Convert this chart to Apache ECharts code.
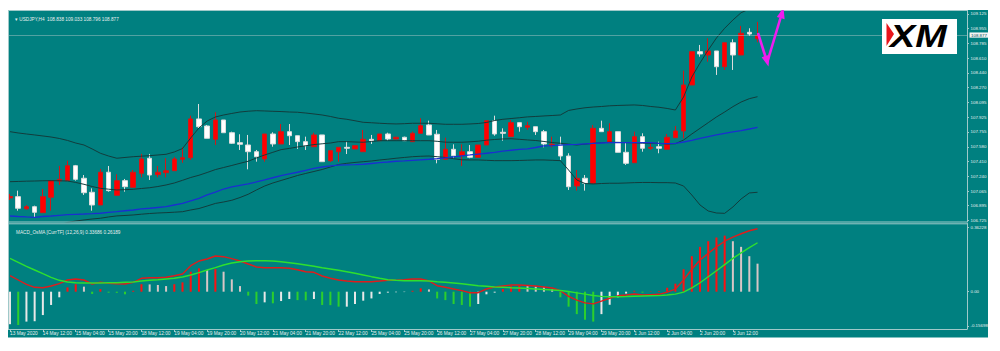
<!DOCTYPE html>
<html><head><meta charset="utf-8">
<script src="https://cdn.jsdelivr.net/npm/echarts@6/dist/echarts.min.js"></script>
<style>html,body{margin:0;padding:0;background:#fff}#c{width:1000px;height:351px}</style>
</head><body><div id="c"></div>
<script>
// ---------- DATA ----------
const times = [
'2020.05.13 20:00',
'2020.05.14 00:00','2020.05.14 04:00','2020.05.14 08:00','2020.05.14 12:00','2020.05.14 16:00','2020.05.14 20:00',
'2020.05.15 00:00','2020.05.15 04:00','2020.05.15 08:00','2020.05.15 12:00','2020.05.15 16:00','2020.05.15 20:00',
'2020.05.18 00:00','2020.05.18 04:00','2020.05.18 08:00','2020.05.18 12:00','2020.05.18 16:00','2020.05.18 20:00',
'2020.05.19 00:00','2020.05.19 04:00','2020.05.19 08:00','2020.05.19 12:00','2020.05.19 16:00','2020.05.19 20:00',
'2020.05.20 00:00','2020.05.20 04:00','2020.05.20 08:00','2020.05.20 12:00','2020.05.20 16:00','2020.05.20 20:00',
'2020.05.21 00:00','2020.05.21 04:00','2020.05.21 08:00','2020.05.21 12:00','2020.05.21 16:00','2020.05.21 20:00',
'2020.05.22 00:00','2020.05.22 04:00','2020.05.22 08:00','2020.05.22 12:00','2020.05.22 16:00','2020.05.22 20:00',
'2020.05.25 00:00','2020.05.25 04:00','2020.05.25 08:00','2020.05.25 12:00','2020.05.25 16:00','2020.05.25 20:00',
'2020.05.26 00:00','2020.05.26 04:00','2020.05.26 08:00','2020.05.26 12:00','2020.05.26 16:00','2020.05.26 20:00',
'2020.05.27 00:00','2020.05.27 04:00','2020.05.27 08:00','2020.05.27 12:00','2020.05.27 16:00','2020.05.27 20:00',
'2020.05.28 00:00','2020.05.28 04:00','2020.05.28 08:00','2020.05.28 12:00','2020.05.28 16:00','2020.05.28 20:00',
'2020.05.29 00:00','2020.05.29 04:00','2020.05.29 08:00','2020.05.29 12:00','2020.05.29 16:00','2020.05.29 20:00',
'2020.06.01 00:00','2020.06.01 04:00','2020.06.01 08:00','2020.06.01 12:00','2020.06.01 16:00','2020.06.01 20:00',
'2020.06.02 00:00','2020.06.02 04:00','2020.06.02 08:00','2020.06.02 12:00','2020.06.02 16:00','2020.06.02 20:00',
'2020.06.03 00:00','2020.06.03 04:00','2020.06.03 08:00','2020.06.03 12:00','2020.06.03 16:00','2020.06.03 20:00',
'2020.06.04 00:00'];
const xTickLabels = ['13 May 2020','14 May 12:00','15 May 04:00','15 May 20:00','18 May 12:00','19 May 04:00',
'19 May 20:00','20 May 12:00','21 May 04:00','21 May 20:00','22 May 12:00','25 May 04:00','25 May 20:00',
'26 May 12:00','27 May 04:00','27 May 20:00','28 May 12:00','29 May 04:00','29 May 20:00','1 Jun 12:00',
'2 Jun 04:00','2 Jun 20:00','3 Jun 12:00'];
const priceTicks = [109.125,108.955,108.785,108.610,108.440,108.270,108.095,107.925,107.755,107.580,107.410,107.240,107.065,106.895,106.725];
const macdTickLabels = ['0.36228','0.00','-0.15698'];
const bid = 108.877;

const open = [106.985,107.000,106.860,106.883,106.814,106.993,107.182,107.186,107.360,107.214,
107.051,106.903,107.284,107.016,107.186,107.109,107.272,107.447,107.256,107.279,
107.302,107.435,107.453,107.904,107.822,107.667,107.892,107.744,107.628,107.601,
107.523,107.438,107.729,107.613,107.756,107.709,107.640,107.581,107.718,107.418,
107.523,107.574,107.555,107.523,107.667,107.651,107.729,107.671,107.691,107.640,
107.737,107.834,107.726,107.435,107.551,107.477,107.523,107.458,107.601,107.884,
107.749,107.698,107.861,107.807,107.814,107.756,107.598,107.601,107.473,107.124,
107.214,107.156,107.795,107.628,107.756,107.516,107.395,107.698,107.563,107.581,
107.551,107.686,107.764,108.299,108.687,108.648,108.695,108.512,108.791,108.648,
108.912,108.838];
const close = [107.002,106.865,106.883,106.818,107.000,107.186,107.202,107.360,107.202,107.046,
106.903,107.284,107.070,107.186,107.116,107.284,107.438,107.252,107.284,107.302,
107.438,107.453,107.904,107.814,107.679,107.892,107.744,107.621,107.609,107.523,
107.465,107.729,107.613,107.756,107.709,107.640,107.593,107.718,107.407,107.535,
107.574,107.563,107.593,107.667,107.648,107.729,107.671,107.691,107.651,107.737,
107.826,107.718,107.435,107.551,107.477,107.523,107.458,107.601,107.884,107.729,
107.737,107.861,107.814,107.826,107.756,107.613,107.609,107.473,107.116,107.214,
107.156,107.795,107.756,107.756,107.516,107.388,107.698,107.563,107.574,107.563,
107.691,107.764,108.299,108.687,108.660,108.695,108.512,108.791,108.648,108.901,
108.892,108.877];
const low = [106.961,106.837,106.845,106.755,106.814,106.837,107.136,107.186,107.186,107.020,
106.837,106.903,107.058,107.016,107.058,107.109,107.225,107.194,107.225,107.225,
107.302,107.395,107.427,107.795,107.679,107.601,107.744,107.613,107.543,107.318,
107.407,107.407,107.581,107.613,107.601,107.555,107.543,107.581,107.407,107.403,
107.407,107.496,107.555,107.523,107.613,107.651,107.651,107.667,107.651,107.640,
107.737,107.718,107.388,107.435,107.447,107.357,107.447,107.458,107.601,107.709,
107.651,107.698,107.756,107.776,107.718,107.574,107.574,107.427,107.078,107.070,
107.070,107.156,107.756,107.628,107.516,107.369,107.395,107.523,107.543,107.505,
107.551,107.686,107.679,108.299,108.628,108.570,108.416,108.474,108.474,108.648,
108.869,108.796];
const high = [107.031,107.070,106.903,106.895,107.089,107.194,107.357,107.418,107.369,107.252,
107.097,107.322,107.357,107.260,107.206,107.310,107.497,107.497,107.357,107.447,
107.462,107.574,107.942,108.078,107.834,107.982,107.892,107.756,107.726,107.718,
107.543,107.729,107.749,107.845,107.845,107.709,107.698,107.744,107.718,107.543,
107.574,107.640,107.593,107.776,107.718,107.729,107.744,107.698,107.698,107.756,
107.912,107.884,107.776,107.686,107.609,107.609,107.601,107.601,107.884,107.942,
107.795,107.892,107.861,107.872,107.814,107.776,107.698,107.698,107.505,107.310,
107.252,107.834,107.884,107.854,107.756,107.633,107.756,107.737,107.621,107.640,
107.729,107.822,108.466,108.687,108.765,108.842,108.695,108.791,108.831,108.986,
108.959,109.033];

const bbUpper = [107.756,107.741,107.729,107.718,107.706,107.694,107.677,107.654,107.624,107.601,
107.555,107.505,107.473,107.447,107.456,107.465,107.471,107.477,107.485,107.493,
107.520,107.560,107.683,107.799,107.880,107.927,107.950,107.968,107.985,107.994,
108.000,107.997,107.993,107.990,107.985,107.982,107.973,107.962,107.950,107.933,
107.912,107.900,107.883,107.865,107.860,107.854,107.849,107.846,107.849,107.854,
107.854,107.854,107.848,107.842,107.842,107.842,107.846,107.851,107.863,107.886,
107.900,107.909,107.918,107.928,107.933,107.939,107.944,107.950,108.003,108.020,
108.034,108.043,108.049,108.057,108.061,108.064,108.067,108.061,108.049,108.040,
108.026,108.008,108.160,108.392,108.555,108.706,108.846,108.959,109.055,109.140,
109.183,109.241];
const bbMiddle = [107.174,107.177,107.180,107.182,107.185,107.186,107.185,107.182,107.165,107.144,
107.118,107.097,107.087,107.078,107.081,107.086,107.095,107.104,107.118,107.136,
107.159,107.190,107.223,107.249,107.281,107.315,107.339,107.363,107.388,107.412,
107.450,107.485,107.516,107.547,107.561,107.578,107.592,107.606,107.615,107.624,
107.640,107.640,107.636,107.633,107.642,107.651,107.651,107.651,107.651,107.651,
107.651,107.651,107.644,107.634,107.633,107.633,107.638,107.645,107.657,107.665,
107.671,107.674,107.667,107.660,107.653,107.642,107.630,107.621,107.611,107.601,
107.611,107.620,107.627,107.633,107.632,107.629,107.627,107.622,107.621,107.621,
107.613,107.616,107.659,107.729,107.795,107.861,107.927,107.985,108.047,108.101,
108.140,108.163];
const bbLower = [106.624,106.612,106.607,106.612,106.630,106.647,106.670,106.700,106.717,106.729,
106.740,106.749,106.764,106.776,106.781,106.787,106.796,106.804,106.810,106.814,
106.819,106.825,106.845,106.862,106.891,106.921,106.938,106.958,106.990,107.028,
107.078,107.124,107.159,107.188,107.217,107.246,107.270,107.293,107.316,107.345,
107.374,107.388,107.398,107.407,107.415,107.427,107.436,107.447,107.456,107.465,
107.470,107.473,107.465,107.456,107.442,107.429,107.427,107.427,107.423,107.419,
107.419,107.419,107.421,107.424,107.427,107.427,107.423,107.419,107.310,107.194,
107.153,107.148,107.153,107.156,107.156,107.159,107.163,107.165,107.165,107.163,
107.163,107.159,107.124,107.019,106.903,106.833,106.810,106.806,106.880,106.973,
107.043,107.051];
const maLine = [106.775,106.769,106.764,106.760,106.769,106.775,106.783,106.790,106.795,106.798,
106.802,106.807,106.816,106.825,106.836,106.845,106.857,106.865,106.874,106.883,
106.903,106.921,106.950,106.979,107.020,107.054,107.089,107.113,107.132,107.150,
107.171,107.194,107.220,107.244,107.264,107.284,107.307,107.330,107.345,107.357,
107.366,107.369,107.372,107.377,107.386,107.395,107.403,107.412,107.417,107.423,
107.429,107.435,107.442,107.452,107.464,107.475,107.485,107.496,107.505,107.516,
107.529,107.540,107.549,107.557,107.572,107.590,107.594,107.600,107.605,107.609,
107.615,107.620,107.624,107.628,107.628,107.628,107.628,107.628,107.628,107.621,
107.617,107.619,107.636,107.656,107.677,107.698,107.718,107.737,107.753,107.768,
107.787,107.807];

const osma = [-0.174,-0.178,-0.160,-0.158,-0.125,-0.071,-0.030,0.023,0.040,0.027,
-0.012,0.014,-0.005,-0.006,-0.014,0.005,0.040,0.039,0.036,0.030,
0.040,0.050,0.107,0.125,0.116,0.121,0.107,0.066,0.030,-0.021,
-0.066,-0.057,-0.062,-0.050,-0.039,-0.045,-0.046,-0.039,-0.071,-0.072,
-0.080,-0.080,-0.066,-0.048,-0.036,-0.012,-0.005,-0.003,-0.002,0.005,
0.018,0.012,-0.036,-0.045,-0.066,-0.071,-0.080,-0.066,-0.014,-0.005,
0.014,0.029,0.032,0.030,0.028,0.024,0.012,-0.030,-0.080,-0.120,
-0.150,-0.160,-0.120,-0.070,-0.030,-0.010,0.005,-0.005,0.002,0.004,
0.021,0.043,0.120,0.190,0.240,0.270,0.290,0.300,0.270,0.240,
0.190,0.150];
const macdMain = [0.0856,0.0626,0.0396,0.0235,0.0214,0.0305,0.0428,0.0626,0.0680,0.0626,
0.0412,0.0503,0.0449,0.0428,0.0412,0.0503,0.0717,0.0749,0.0749,0.0770,
0.0856,0.0947,0.1391,0.1643,0.1750,0.1910,0.1873,0.1766,0.1643,0.1482,
0.1322,0.1284,0.1284,0.1284,0.1252,0.1177,0.1070,0.1038,0.0840,0.0717,
0.0626,0.0572,0.0535,0.0535,0.0535,0.0572,0.0610,0.0610,0.0642,0.0680,
0.0680,0.0572,0.0321,0.0235,0.0144,0.0054,-0.0054,-0.0054,0.0144,0.0251,
0.0305,0.0358,0.0358,0.0332,0.0305,0.0251,0.0198,0.0050,-0.0250,-0.0450,
-0.0600,-0.0650,-0.0500,-0.0350,-0.0220,-0.0180,-0.0120,-0.0180,-0.0160,-0.0140,
-0.0020,0.0140,0.0630,0.1200,0.1700,0.2050,0.2400,0.2700,0.2920,0.3100,
0.3260,0.33686];
const macdSignal = [0.1787,0.1573,0.1359,0.1161,0.0963,0.0770,0.0610,0.0519,0.0482,0.0465,
0.0465,0.0465,0.0482,0.0482,0.0503,0.0519,0.0572,0.0610,0.0642,0.0680,
0.0717,0.0787,0.0894,0.1017,0.1161,0.1284,0.1429,0.1536,0.1605,0.1643,
0.1659,0.1659,0.1643,0.1605,0.1552,0.1498,0.1429,0.1359,0.1284,0.1215,
0.1145,0.1070,0.0984,0.0894,0.0803,0.0717,0.0642,0.0610,0.0589,0.0589,
0.0589,0.0572,0.0535,0.0503,0.0465,0.0428,0.0375,0.0321,0.0289,0.0251,
0.0235,0.0214,0.0198,0.0171,0.0144,0.0118,0.0091,0.0064,0.0011,-0.0060,
-0.0130,-0.0200,-0.0250,-0.0270,-0.0270,-0.0260,-0.0240,-0.0230,-0.0220,-0.0210,
-0.0180,-0.0130,-0.0020,0.0200,0.0480,0.0800,0.1120,0.1450,0.1780,0.2080,
0.2360,0.26189];

// ---------- CHART ----------
const TEAL = '#008080', FRAME = '#9fc9c9', TXT = '#e6eeee';
const SHIFT = 25;
const cats = times.concat(Array.from({length: SHIFT}, (_, i) => 'shift' + i));
const nBars = times.length;
const showIdx = (i) => i % 4 === 0 && i < nBars;
const histColor = (i) => {
  const v = osma[i], p = i > 0 ? osma[i - 1] : v;
  if (v >= 0) return v > p ? '#ff1010' : '#d8c6c6';
  return v < p ? '#2ccf2c' : '#e8e8e8';
};
const last = nBars - 1;
const head = '\u25BE USDJPY,H4  ' + [open[last], high[last], low[last], close[last]].map(v => v.toFixed(3)).join(' ');
const macdHead = 'MACD_OsMA [CurrTF] (12,26,9) ' + macdMain[last].toFixed(5) + ' ' + macdSignal[last].toFixed(5);
const FONT = 'Liberation Sans';

const chart = echarts.init(document.getElementById('c'), null, {renderer: 'svg'});
const lineS = (data, color, w) => ({type: 'line', xAxisIndex: 0, yAxisIndex: 0, data, symbol: 'none',
  lineStyle: {color, width: w}, z: 4, silent: true});
chart.setOption({
  animation: false,
  backgroundColor: TEAL,
  textStyle: {fontFamily: FONT},
  title: [
    {text: head, left: 10, top: 11.5, textStyle: {fontSize: 4.7, color: TXT, fontWeight: 'normal', fontFamily: FONT}},
    {text: macdHead, left: 11, top: 225.3, textStyle: {fontSize: 4.7, color: TXT, fontWeight: 'normal', fontFamily: FONT}}
  ],
  grid: [
    {left: 5.9, right: 33, top: 10, height: 212, outerBoundsMode: 'none'},
    {left: 5.9, right: 33, top: 223.5, height: 105.5, outerBoundsMode: 'none'}
  ],
  xAxis: [
    {type: 'category', gridIndex: 0, data: cats, boundaryGap: true,
      axisLine: {show: false, onZero: false}, axisTick: {show: false}, axisLabel: {show: false}, splitLine: {show: false}},
    {type: 'category', gridIndex: 1, data: cats, boundaryGap: true, position: 'bottom',
      axisLine: {show: true, onZero: false, lineStyle: {color: FRAME, width: 1}},
      axisTick: {show: true, interval: showIdx, alignWithLabel: true, length: 3, lineStyle: {color: FRAME}},
      axisLabel: {interval: showIdx, formatter: (v, i) => xTickLabels[i / 4] || '', align: 'left',
        fontSize: 4.8, color: TXT, margin: 2.2, fontFamily: FONT},
      splitLine: {show: false}}
  ],
  yAxis: [
    {type: 'value', gridIndex: 0, position: 'right', min: 106.7052, max: 109.1715, scale: true,
      axisLine: {show: true, lineStyle: {color: FRAME, width: 1}},
      axisTick: {show: true, customValues: priceTicks, length: 2, lineStyle: {color: FRAME}},
      axisLabel: {customValues: priceTicks, formatter: v => v.toFixed(3), fontSize: 4.4, color: TXT, margin: 3.5, fontFamily: FONT},
      splitLine: {show: false}},
    {type: 'value', gridIndex: 1, position: 'right', min: -0.1996, max: 0.3649,
      axisLine: {show: true, lineStyle: {color: FRAME, width: 1}},
      axisTick: {show: true, customValues: [0.3446, 0, -0.1835], length: 2, lineStyle: {color: FRAME}},
      axisLabel: {customValues: [0.3446, 0, -0.1835],
        formatter: v => v > 0.1 ? macdTickLabels[0] : (v < -0.1 ? macdTickLabels[2] : macdTickLabels[1]),
        fontSize: 4.4, color: TXT, margin: 3.5, fontFamily: FONT},
      splitLine: {show: false}}
  ],
  series: [
    {type: 'candlestick', xAxisIndex: 0, yAxisIndex: 0, barWidth: 5, z: 3,
      data: times.map((t, i) => [open[i], close[i], low[i], high[i]]),
      itemStyle: {color: '#ff0000', color0: '#ffffff', borderColor: '#d01818', borderColor0: '#dcdcdc', borderWidth: 1},
      markLine: {symbol: 'none', silent: true, animation: false,
        data: [{yAxis: bid}],
        lineStyle: {color: 'rgba(150,190,190,0.55)', width: 1, type: 'solid'},
        label: {position: 'end', distance: 2.5, formatter: () => bid.toFixed(3), fontSize: 4.4, color: '#005050',
          backgroundColor: '#f4f4f4', padding: [0.6, 1.5], fontFamily: FONT}}},
    lineS(bbUpper, '#123c3c', 1),
    lineS(bbMiddle, '#123c3c', 1),
    lineS(bbLower, '#123c3c', 1),
    lineS(maLine, '#1a2fd0', 1.3),
    {type: 'bar', xAxisIndex: 1, yAxisIndex: 1, barWidth: 2, silent: true, z: 3,
      data: osma.map((v, i) => ({value: v, itemStyle: {color: histColor(i)}}))},
    {type: 'line', xAxisIndex: 1, yAxisIndex: 1, data: macdMain, symbol: 'none', z: 5, silent: true,
      lineStyle: {color: '#e01c1c', width: 1.4}},
    {type: 'line', xAxisIndex: 1, yAxisIndex: 1, data: macdSignal, symbol: 'none', z: 5, silent: true,
      lineStyle: {color: '#2ee02e', width: 1.4}}
  ],
  graphic: [
    {type: 'line', z: 50, shape: {x1: 8.5, y1: 10.5, x2: 967, y2: 10.5}, style: {stroke: FRAME, lineWidth: 1}},
    {type: 'line', z: 50, shape: {x1: 8.5, y1: 10, x2: 8.5, y2: 329}, style: {stroke: FRAME, lineWidth: 1}},
    {type: 'line', z: 50, shape: {x1: 8.5, y1: 222, x2: 967, y2: 222}, style: {stroke: FRAME, lineWidth: 1}},
    {type: 'line', z: 50, shape: {x1: 8.5, y1: 223.8, x2: 967, y2: 223.8}, style: {stroke: FRAME, lineWidth: 1}},
    {type: 'rect', z: 60, shape: {x: 882, y: 19, width: 75, height: 35}, style: {fill: '#ffffff'}},
    {type: 'polygon', z: 61, shape: {points: [[886.5, 23], [894, 34], [886.5, 46]]}, style: {fill: '#e8151b'}},
    {type: 'text', z: 62, x: 890, y: 36.5, scaleX: 1.22,
      style: {text: 'XM', fill: '#000000', font: 'italic 900 31px "Liberation Sans"', textVerticalAlign: 'middle', textAlign: 'left'}},
    {type: 'polyline', z: 70, shape: {points: [[758, 33], [766.5, 60]]}, style: {stroke: '#f01cf0', lineWidth: 2.6}},
    {type: 'polygon', z: 70, shape: {points: [[768.5, 66.5], [761.6, 57.2], [769.6, 54.8]]}, style: {fill: '#f01cf0'}},
    {type: 'polyline', z: 70, shape: {points: [[767.3, 62], [780.5, 18]]}, style: {stroke: '#f01cf0', lineWidth: 2.6}},
    {type: 'polygon', z: 70, shape: {points: [[783.5, 7.5], [784.6, 19.2], [776.8, 16.9]]}, style: {fill: '#f01cf0'}},
    {type: 'rect', z: 100, shape: {x: 0, y: 0, width: 1000, height: 10}, style: {fill: '#ffffff'}},
    {type: 'rect', z: 100, shape: {x: 0, y: 0, width: 8, height: 351}, style: {fill: '#ffffff'}},
    {type: 'rect', z: 100, shape: {x: 988, y: 0, width: 12, height: 351}, style: {fill: '#ffffff'}},
    {type: 'rect', z: 100, shape: {x: 0, y: 337.5, width: 1000, height: 14}, style: {fill: '#ffffff'}}
  ]
});
</script></body></html>
